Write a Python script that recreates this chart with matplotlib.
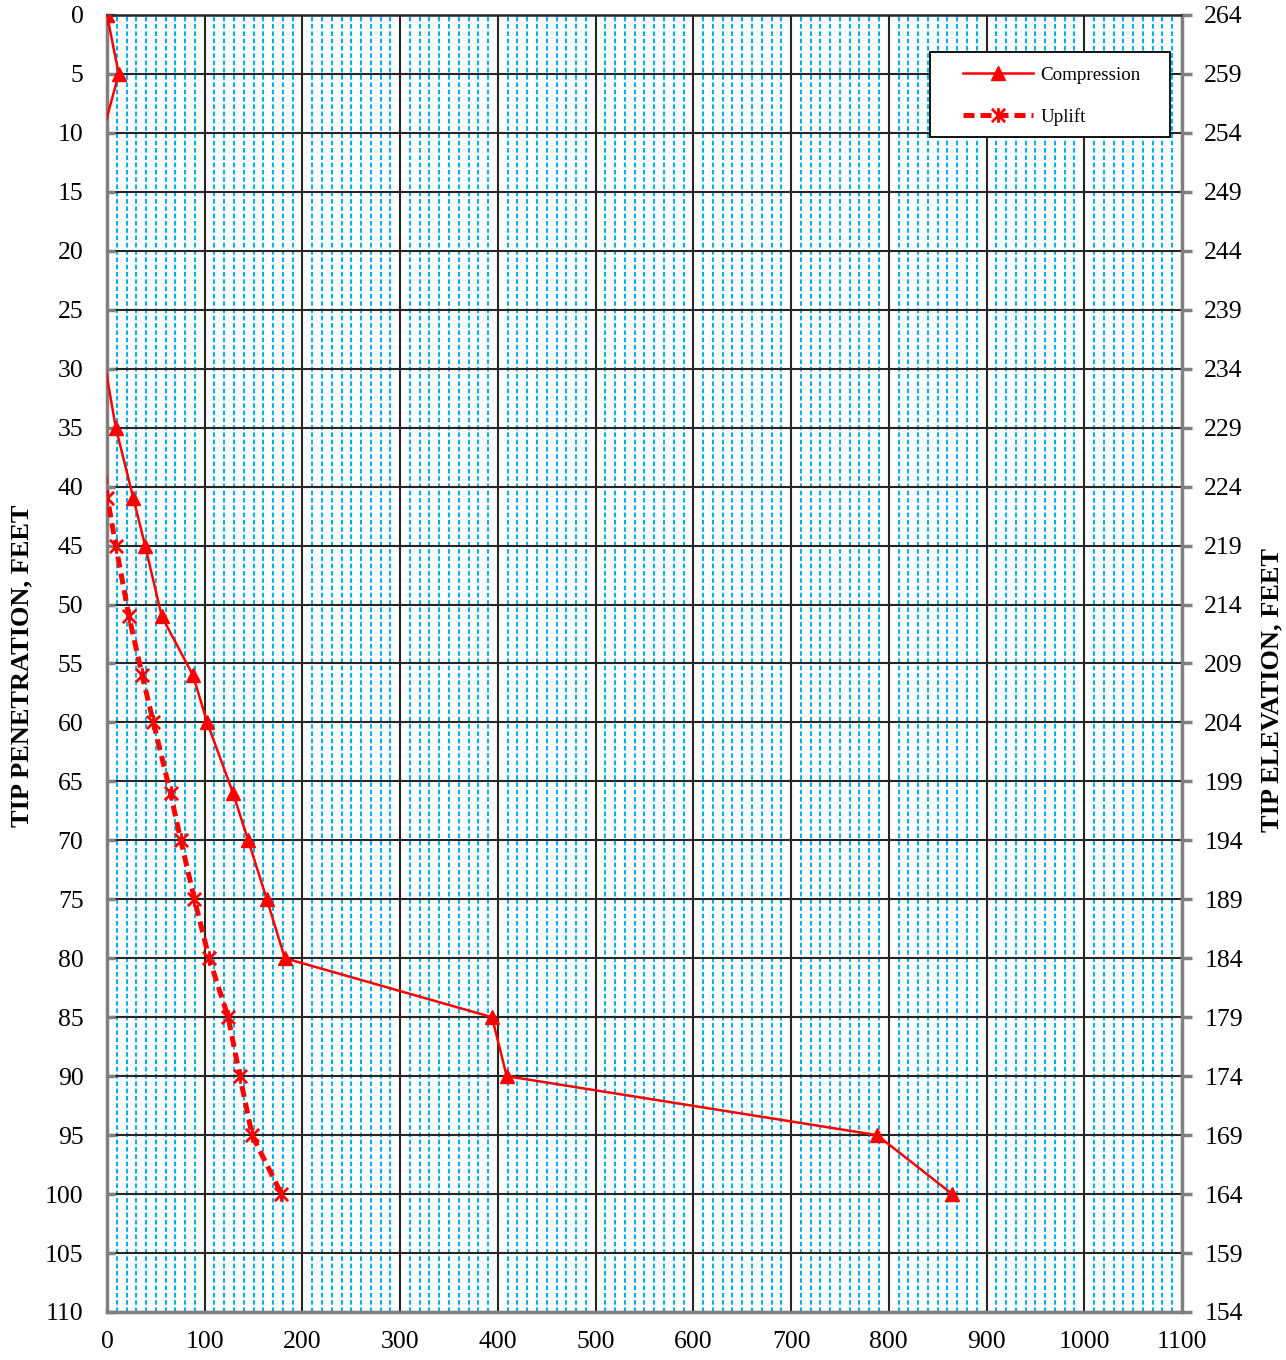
import numpy as np
import matplotlib
matplotlib.use("Agg")
import matplotlib.pyplot as plt
from matplotlib.path import Path
from matplotlib.patches import Rectangle

plt.rcParams['font.family'] = ['Liberation Serif', 'DejaVu Serif']

# Tip penetration (ft) and capacity values (x axis) for each series
comp_depth = [0, 5, 10, 30, 35, 41, 45, 51, 56, 60, 66, 70, 75, 80, 85, 90, 95, 100]
comp_value = [0, 12, -4.3, -1.5, 9, 27, 39, 56, 88, 102.5, 129, 144.5, 163.5, 182, 394, 409, 788, 865]

uplift_depth = [0, 5, 35, 41, 45, 51, 56, 60, 66, 70, 75, 80, 85, 90, 95, 100]
uplift_value = [0, -10, -8, 0.5, 9, 22.5, 36, 47.5, 65, 75.5, 89.5, 104.5, 124, 136, 148.5, 178.5]

x_ticks = list(range(0, 1101, 100))
depth_ticks = list(range(0, 111, 5))
elev_top, elev_bottom = 264, 154
elev_ticks = list(range(elev_bottom, elev_top + 1, 5))

# Asterisk-style marker: an X crossed by a vertical stroke
star = Path([(-1, -1), (1, 1), (-1, 1), (1, -1), (0, -1.1), (0, 1.1)],
            [Path.MOVETO, Path.LINETO, Path.MOVETO, Path.LINETO, Path.MOVETO, Path.LINETO])

fig = plt.figure(figsize=(12.86, 13.6), dpi=100)
ax = fig.add_axes([0.0832, 0.0353, 0.9191 - 0.0832, 0.989 - 0.0353])

ax.set_xlim(0, 1100)
ax.set_ylim(110, 0)

# grid: blue dashed minor verticals, black major lines
ax.set_xticks(x_ticks)
ax.set_xticks(np.arange(10, 1100, 10), minor=True)
ax.set_yticks(depth_ticks)
ax.grid(which='minor', axis='x', color='#00B0F0', linestyle=(0, (2.2, 1.3)), linewidth=1.5)
ax.grid(which='major', axis='both', color='#262626', linestyle='-', linewidth=1.5)
ax.set_axisbelow(True)
ax.tick_params(which='minor', length=0)
ax.tick_params(axis='y', which='major', direction='in', length=6, width=2.5, color='#808080',
               labelsize=18.5, pad=17)
ax.tick_params(axis='x', which='major', direction='in', length=0, labelsize=18.5, pad=14)
for s in ax.spines.values():
    s.set_color('#808080')
    s.set_linewidth(2.5)
ax.spines['top'].set_color('#262626')
ax.spines['top'].set_linewidth(1.8)

comp_mask = [v >= 0 for v in comp_value]
uplift_mask = [v >= 0 for v in uplift_value]

ax.plot(comp_value, comp_depth, color='#FF0000', linewidth=1.8, marker='^',
        markersize=10.5, markevery=comp_mask, label='Compression', zorder=4)
ax.plot(uplift_value, uplift_depth, color='#FF0000', linewidth=3.6,
        linestyle=(0, (2.2, 1.2)), marker=star, markersize=10.5, markeredgewidth=2.0,
        markevery=uplift_mask, label='Uplift', zorder=3)

ax2 = ax.twinx()
ax2.set_ylim(elev_bottom, elev_top)
ax2.set_yticks(elev_ticks)
ax2.tick_params(axis='y', direction='out', length=7, width=2.5, color='#808080',
                labelsize=18.5, pad=9)
for s in ax2.spines.values():
    s.set_visible(False)

fig.text(22 / 1286, 1 - 666 / 1360, 'TIP PENETRATION, FEET', rotation=90,
         ha='center', va='center', fontsize=19, fontweight='bold')
fig.text(1272 / 1286, 1 - 690 / 1360, 'TIP ELEVATION, FEET', rotation=90,
         ha='center', va='center', fontsize=19, fontweight='bold')

# legend box and entries
box = Rectangle((0.7656, 0.9059), 0.9888 - 0.7656, 0.9715 - 0.9059,
                transform=ax.transAxes, facecolor='white', edgecolor='black',
                linewidth=1.3, zorder=5)
ax.add_patch(box)
leg = ax.legend(loc='upper left', bbox_to_anchor=(0.796, 0.9602), borderaxespad=0,
                borderpad=0, fontsize=13.7, frameon=False, handlelength=3.7,
                handletextpad=0.4, labelspacing=1.25)
leg.set_zorder(6)

fig.savefig('out.png', dpi=100)
